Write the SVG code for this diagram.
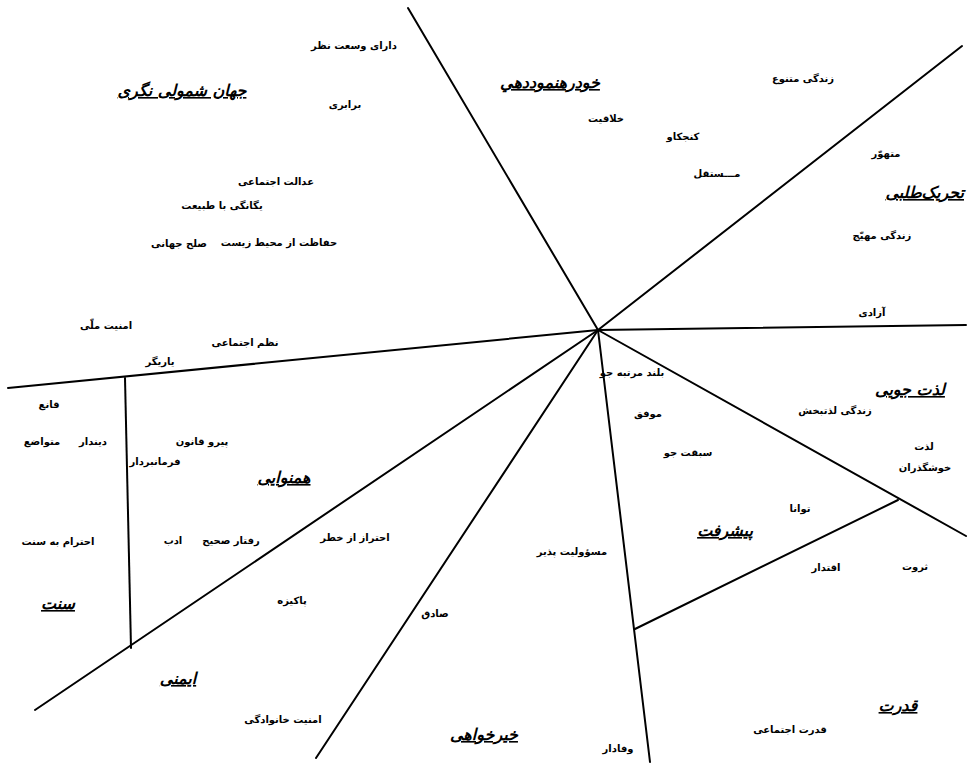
<svg xmlns="http://www.w3.org/2000/svg" width="968" height="764" viewBox="0 0 968 764">
<style>
text{font-family:"DejaVu Sans","Noto Sans",sans-serif;font-weight:bold;fill:#000;text-anchor:middle;direction:rtl}
.i{font-size:10px}
.h{font-size:16px;font-style:italic;text-decoration:underline}
.c line{stroke:#000;stroke-width:2;stroke-linecap:round}
</style>
<rect width="968" height="764" fill="#fff"/>
<g class="c" id="connectors">
<line x1="598" y1="330" x2="408" y2="8"/>
<line x1="598" y1="330" x2="962" y2="46"/>
<line x1="598" y1="330" x2="966" y2="325"/>
<line x1="598" y1="330" x2="966" y2="536"/>
<line x1="598" y1="330" x2="650" y2="762"/>
<line x1="598" y1="330" x2="316" y2="758"/>
<line x1="598" y1="330" x2="35" y2="710"/>
<line x1="598" y1="330" x2="8" y2="388"/>
<line x1="125" y1="378" x2="131" y2="648"/>
<line x1="898" y1="500" x2="635" y2="629"/>
</g>
<g id="universalism">
<text class="h" x="182" y="96">جهان شمولی نگری</text>
<text class="i" x="354" y="49">دارای وسعت نظر</text>
<text class="i" x="345" y="108">برابری</text>
<text class="i" x="276" y="185">عدالت اجتماعی</text>
<text class="i" x="222" y="209">یگانگی با طبیعت</text>
<text class="i" x="279" y="246">حفاظت از محیط زیست</text>
<text class="i" x="179" y="247">صلح جهانی</text>
</g>
<g id="security-top">
<text class="i" x="106" y="329">امنیت ملّی</text>
<text class="i" x="245" y="346">نظم اجتماعی</text>
<text class="i" x="160" y="365">یاریگر</text>
</g>
<g id="self-direction">
<text class="h" x="550" y="88">خودرهنموددهي</text>
<text class="i" x="606" y="122">خلاقیت</text>
<text class="i" x="683" y="140">کنجکاو</text>
<text class="i" x="717" y="177">مـــستقل</text>
</g>
<g id="stimulation">
<text class="i" x="803" y="82">زندگی متنوع</text>
<text class="i" x="886" y="157">متهوّر</text>
<text class="h" x="964" y="198" style="text-anchor:end;direction:ltr">تحریک‌طلبی</text>
<text class="i" x="882" y="239">زندگی مهیّج</text>
<text class="i" x="872" y="316">آزادی</text>
</g>
<g id="hedonism">
<text class="h" x="910" y="395">لذت جویی</text>
<text class="i" x="835" y="414">زندگی لذتبخش</text>
<text class="i" x="924" y="450">لذت</text>
<text class="i" x="925" y="471">خوشگذران</text>
</g>
<g id="achievement">
<text class="i" x="632" y="376">بلند مرتبه جو</text>
<text class="i" x="648" y="417">موفق</text>
<text class="i" x="688" y="456">سبقت جو</text>
<text class="i" x="800" y="512">توانا</text>
<text class="h" x="725" y="536">پیشرفت</text>
</g>
<g id="power">
<text class="i" x="826" y="571">اقتدار</text>
<text class="i" x="915" y="570">ثروت</text>
<text class="h" x="898" y="711">قدرت</text>
<text class="i" x="790" y="733">قدرت اجتماعی</text>
</g>
<g id="benevolence">
<text class="i" x="572" y="555">مسؤولیت پذیر</text>
<text class="i" x="435" y="617">صادق</text>
<text class="h" x="484" y="740">خیرخواهی</text>
<text class="i" x="618" y="752">وفادار</text>
</g>
<g id="security">
<text class="i" x="355" y="541">احتراز از خطر</text>
<text class="i" x="292" y="604">پاکیزه</text>
<text class="h" x="178" y="684">ایمنی</text>
<text class="i" x="283" y="723">امنیت خانوادگی</text>
</g>
<g id="conformity">
<text class="i" x="202" y="445">پیرو قانون</text>
<text class="i" x="155" y="465">فرمانبردار</text>
<text class="h" x="284" y="483">همنوایی</text>
<text class="i" x="231" y="544">رفتار صحیح</text>
<text class="i" x="173" y="544">ادب</text>
</g>
<g id="tradition">
<text class="i" x="49" y="408">قانع</text>
<text class="i" x="93" y="445">دیندار</text>
<text class="i" x="42" y="445">متواضع</text>
<text class="i" x="58" y="545">احترام به سنت</text>
<text class="h" x="58" y="609">سنت</text>
</g>
</svg>
